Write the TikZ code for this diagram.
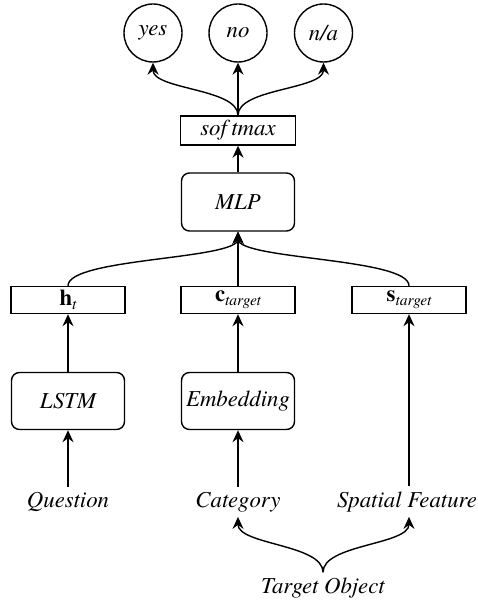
\documentclass[tikz,border=0pt]{standalone}
\usepackage{fontspec}
\setmainfont{texgyretermes}[
  Extension=.otf,
  UprightFont=*-regular,
  ItalicFont=*-italic,
  BoldFont=*-bold,
  BoldItalicFont=*-bolditalic]
\usetikzlibrary{arrows.meta}

% lowered italic subscript for the feature vectors
\newcommand\lowsub[1]{\raisebox{-4pt}{\fontsize{15.5}{16}\selectfont\mdseries\itshape #1}}

\begin{document}
\begin{tikzpicture}[x=1pt,y=1pt,
  every node/.style={font=\fontsize{22.8}{27}\selectfont\itshape},
  conn/.style={line width=1.4pt},
  arrowed/.style={conn,-{Stealth[length=12pt,width=11pt,inset=4pt]}},
  circ/.style={draw,line width=1.4pt,circle,minimum size=58pt,inner sep=0pt},
  bar/.style={draw,line width=1.4pt,minimum width=114pt,minimum height=27pt,inner sep=0pt},
  rbox/.style={draw,line width=1.4pt,rounded corners=8pt,minimum width=113pt,minimum height=57pt,inner sep=0pt},
  lbl/.style={anchor=base,inner sep=5pt}]

\useasboundingbox (0,0) rectangle (478,-604);

% outputs
\node[circ] (yes) at (153,-33) {yes};
\node[circ] (no)  at (238,-33) {no};
\node[circ] (na)  at (323.5,-33) {n/a};

% classifier
\node[bar,minimum width=115pt,minimum height=29pt] (soft) at (238,-130.5) {sof\kern4.5pt tmax};
\node[rbox,minimum height=58pt] (mlp) at (238,-202) {MLP};

% feature vectors
\node[bar] (h) at (68,-300) {\upshape\bfseries h\lowsub{t}};
\node[bar] (c) at (238,-300) {\upshape\bfseries c\lowsub{target}};
\node[bar] (s) at (409,-300) {\upshape\bfseries s\lowsub{target}};

% encoders
\node[rbox] (lstm) at (68,-401) {LSTM};
\node[rbox] (emb)  at (238,-401) {Embedding};

% inputs
\node[lbl] (q)   at (68,-507)  {Question};
\node[lbl] (cat) at (238,-507) {Category};
\node[lbl] (sf)  at (407,-507) {Spatial Feature};
\node[lbl] (tgt) at (323,-593) {Target Object};

% connectors
\draw[arrowed] (soft.north) .. controls +(0,27) and +(0,-27) .. (yes.south);
\draw[arrowed] (soft.north) -- (no.south);
\draw[arrowed] (soft.north) .. controls +(0,27) and +(0,-27) .. (na.south);
\draw[arrowed] (mlp.north) -- (soft.south);

\draw[arrowed] (h.north) .. controls +(0,28) and +(0,-28) .. (mlp.south);
\draw[arrowed] (c.north) -- (mlp.south);
\draw[arrowed] (s.north) .. controls +(0,28) and +(0,-28) .. (mlp.south);

\draw[arrowed] (lstm.north) -- (h.south);
\draw[arrowed] (emb.north) -- (c.south);
\draw[arrowed] (sf.north -| s.south) -- (s.south);

\draw[arrowed] (q.north) -- (lstm.south);
\draw[arrowed] (cat.north) -- (emb.south);

\draw[arrowed] (tgt.north) .. controls +(0,28) and +(0,-28) .. (cat.south);
\draw[arrowed] (tgt.north) .. controls +(0,28) and +(0,-28) .. (sf.south -| s.south);
\end{tikzpicture}
\end{document}
